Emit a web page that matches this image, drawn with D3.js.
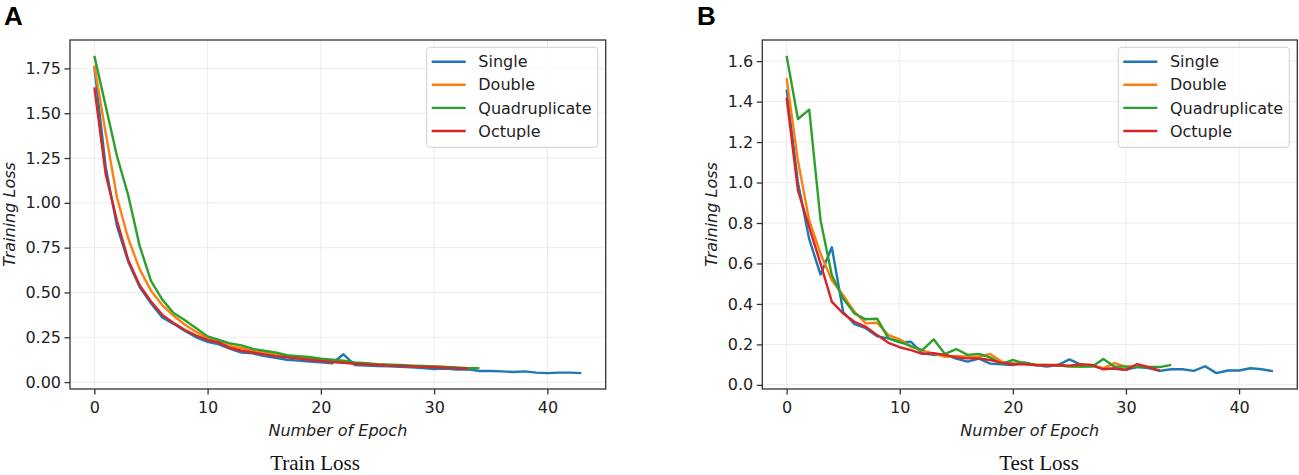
<!DOCTYPE html>
<html lang="en">
<head>
  <meta charset="UTF-8">
  <title>Train / Test Loss</title>
  <script src="https://d3js.org/d3.v7.min.js"></script>
  <style>
    body { margin: 0; background: #fff; }
    svg { display: block; }
    .tick text { font-family: "DejaVu Sans", sans-serif; font-size: 16px; fill: #222; }
    .tick line { stroke: #333; stroke-width: 1.3px; }
    .axlabel { font-family: "DejaVu Sans", sans-serif; font-size: 16px; font-style: italic; fill: #222; }
    .caption { font-family: "Liberation Serif", "Times New Roman", serif; font-size: 21px; fill: #111; }
    .panel { font-family: "Liberation Sans", Arial, sans-serif; font-size: 26px; font-weight: bold; fill: #000; }
    .legend text { font-family: "DejaVu Sans", sans-serif; font-size: 16px; fill: #222; }
  </style>
</head>
<body>
<svg width="1299" height="475"></svg>

<script>
  // series names and colours (matplotlib tab10)
  const seriesNames = ["Single", "Double", "Quadruplicate", "Octuple"];
  const seriesColors = ["#1f77b4", "#ff7f0e", "#2ca02c", "#d62728"];

  // train loss, one value per epoch starting at 0
  const trainSingle = [1.76, 1.20, 0.87, 0.67, 0.53, 0.44, 0.36, 0.325, 0.285, 0.25, 0.225, 0.21, 0.185, 0.165, 0.16, 0.145,
    0.135, 0.125, 0.12, 0.115, 0.11, 0.105, 0.155, 0.095, 0.092, 0.09, 0.088, 0.086, 0.082, 0.078, 0.073, 0.075,
    0.07, 0.072, 0.062, 0.062, 0.06, 0.056, 0.06, 0.053, 0.05, 0.053, 0.053, 0.05];
  const trainDouble = [1.767, 1.39, 1.03, 0.80, 0.63, 0.51, 0.43, 0.37, 0.32, 0.28, 0.245, 0.225, 0.20, 0.19, 0.175, 0.165,
    0.155, 0.145, 0.135, 0.13, 0.12, 0.115, 0.11, 0.105, 0.10, 0.098, 0.095, 0.093, 0.09, 0.088, 0.088, 0.085];
  const trainQuad = [1.82, 1.54, 1.26, 1.04, 0.76, 0.565, 0.46, 0.385, 0.345, 0.30, 0.255, 0.235, 0.215, 0.205, 0.185, 0.175,
    0.165, 0.15, 0.145, 0.14, 0.13, 0.125, 0.12, 0.11, 0.105, 0.10, 0.097, 0.095, 0.092, 0.09, 0.088, 0.085,
    0.082, 0.078, 0.078];
  const trainOct = [1.644, 1.16, 0.90, 0.68, 0.54, 0.45, 0.375, 0.33, 0.29, 0.26, 0.235, 0.22, 0.19, 0.175, 0.165, 0.155,
    0.145, 0.138, 0.132, 0.125, 0.118, 0.112, 0.108, 0.102, 0.098, 0.095, 0.092, 0.09, 0.088, 0.085, 0.083, 0.08,
    0.078, 0.076];

  // test loss
  const testSingle = [1.46, 1.00, 0.72, 0.545, 0.68, 0.36, 0.30, 0.28, 0.24, 0.23, 0.21, 0.213, 0.156, 0.148, 0.15, 0.13,
    0.115, 0.13, 0.105, 0.102, 0.098, 0.111, 0.098, 0.09, 0.098, 0.126, 0.10, 0.094, 0.08, 0.079, 0.075, 0.088,
    0.083, 0.069, 0.077, 0.077, 0.069, 0.092, 0.058, 0.071, 0.071, 0.082, 0.077, 0.068];
  const testDouble = [1.516, 1.108, 0.813, 0.649, 0.517, 0.443, 0.361, 0.304, 0.307, 0.246, 0.225, 0.189, 0.169, 0.156, 0.139, 0.143,
    0.139, 0.139, 0.153, 0.115, 0.107, 0.103, 0.098, 0.098, 0.098, 0.09, 0.09, 0.094, 0.083, 0.107, 0.09, 0.09];
  const testQuad = [1.626, 1.314, 1.36, 0.813, 0.542, 0.427, 0.353, 0.324, 0.327, 0.23, 0.213, 0.192, 0.172, 0.225, 0.153, 0.177,
    0.148, 0.153, 0.136, 0.103, 0.123, 0.107, 0.098, 0.098, 0.095, 0.092, 0.09, 0.09, 0.128, 0.09, 0.09, 0.09,
    0.088, 0.088, 0.099];
  const testOct = [1.42, 0.961, 0.78, 0.599, 0.41, 0.353, 0.312, 0.287, 0.246, 0.208, 0.186, 0.172, 0.153, 0.156, 0.148, 0.136,
    0.131, 0.131, 0.123, 0.11, 0.102, 0.102, 0.098, 0.097, 0.098, 0.095, 0.102, 0.099, 0.077, 0.082, 0.074, 0.103,
    0.087, 0.07];

  const xTicks = [0, 10, 20, 30, 40];
  const trainYTicks = [0, 0.25, 0.5, 0.75, 1.0, 1.25, 1.5, 1.75];
  const testYTicks = [0, 0.2, 0.4, 0.6, 0.8, 1.0, 1.2, 1.4, 1.6];

  const svg = d3.select("svg");

  // matplotlib style 5% margins
  function padded(ext) {
    const p = (ext[1] - ext[0]) * 0.05;
    return [ext[0] - p, ext[1] + p];
  }

  function drawPanel(opt) {
    const { left, right, top, bottom } = opt;
    const all = opt.series.flat();
    const maxLen = d3.max(opt.series, s => s.length);

    const x = d3.scaleLinear().domain(padded([0, maxLen - 1])).range([left, right]);
    const y = d3.scaleLinear().domain(padded(d3.extent(all))).range([bottom, top]);

    const g = svg.append("g");

    // grid
    g.append("g").selectAll("line").data(xTicks).join("line")
      .attr("x1", d => x(d)).attr("x2", d => x(d))
      .attr("y1", top).attr("y2", bottom)
      .attr("stroke", "#ebebeb").attr("stroke-width", 1);
    g.append("g").selectAll("line").data(opt.yTicks).join("line")
      .attr("y1", d => y(d)).attr("y2", d => y(d))
      .attr("x1", left).attr("x2", right)
      .attr("stroke", "#ebebeb").attr("stroke-width", 1);

    // lines
    const line = d3.line().x((d, i) => x(i)).y(d => y(d));
    opt.series.forEach((s, k) => {
      g.append("path")
        .datum(s)
        .attr("fill", "none")
        .attr("stroke", seriesColors[k])
        .attr("stroke-width", 2.4)
        .attr("stroke-linejoin", "round")
        .attr("d", line);
    });

    // axes
    const xAxis = g.append("g")
      .attr("transform", `translate(0,${bottom})`)
      .call(d3.axisBottom(x).tickValues(xTicks).tickFormat(d3.format("d")).tickSize(5.5).tickPadding(7.5));
    const yAxis = g.append("g")
      .attr("transform", `translate(${left},0)`)
      .call(d3.axisLeft(y).tickValues(opt.yTicks).tickFormat(d3.format(opt.yFormat)).tickSize(5.5).tickPadding(3.5));
    xAxis.select(".domain").remove();
    yAxis.select(".domain").remove();

    // frame
    g.append("rect")
      .attr("x", left).attr("y", top)
      .attr("width", right - left).attr("height", bottom - top)
      .attr("fill", "none").attr("stroke", "#333").attr("stroke-width", 1.3);

    // labels
    g.append("text").attr("class", "axlabel")
      .attr("x", (left + right) / 2).attr("y", 436)
      .attr("text-anchor", "middle")
      .text("Number of Epoch");
    g.append("text").attr("class", "axlabel")
      .attr("transform", `translate(${opt.yLabelX},${(top + bottom) / 2}) rotate(-90)`)
      .attr("text-anchor", "middle")
      .text("Training Loss");
    g.append("text").attr("class", "caption")
      .attr("x", opt.captionX).attr("y", 469.5)
      .attr("text-anchor", "middle")
      .text(opt.caption);
    g.append("text").attr("class", "panel")
      .attr("x", opt.letterX).attr("y", 25)
      .text(opt.letter);

    // legend
    const lw = 171, lh = 100;
    const lg = g.append("g").attr("class", "legend")
      .attr("transform", `translate(${right - 8 - lw},${top + 7.3})`);
    lg.append("rect")
      .attr("width", lw).attr("height", lh).attr("rx", 3)
      .attr("fill", "#fff").attr("fill-opacity", 0.8)
      .attr("stroke", "#d0d0d0").attr("stroke-width", 1);
    const rows = lg.selectAll("g.row").data(seriesNames).join("g")
      .attr("class", "row")
      .attr("transform", (d, i) => `translate(0,${14.4 + i * 23.1})`);
    rows.append("line")
      .attr("x1", 5).attr("x2", 39)
      .attr("stroke", (d, i) => seriesColors[i]).attr("stroke-width", 2.4);
    rows.append("text")
      .attr("x", 51.6).attr("dy", "0.35em")
      .text(d => d);
  }

  drawPanel({
    left: 70, right: 605.7, top: 40, bottom: 389,
    series: [trainSingle, trainDouble, trainQuad, trainOct],
    yTicks: trainYTicks, yFormat: ".2f",
    yLabelX: 15, caption: "Train Loss", captionX: 315, letter: "A", letterX: 4
  });

  drawPanel({
    left: 762.3, right: 1297.3, top: 40, bottom: 389,
    series: [testSingle, testDouble, testQuad, testOct],
    yTicks: testYTicks, yFormat: ".1f",
    yLabelX: 717, caption: "Test Loss", captionX: 1039, letter: "B", letterX: 697
  });
</script>
</body>
</html>
